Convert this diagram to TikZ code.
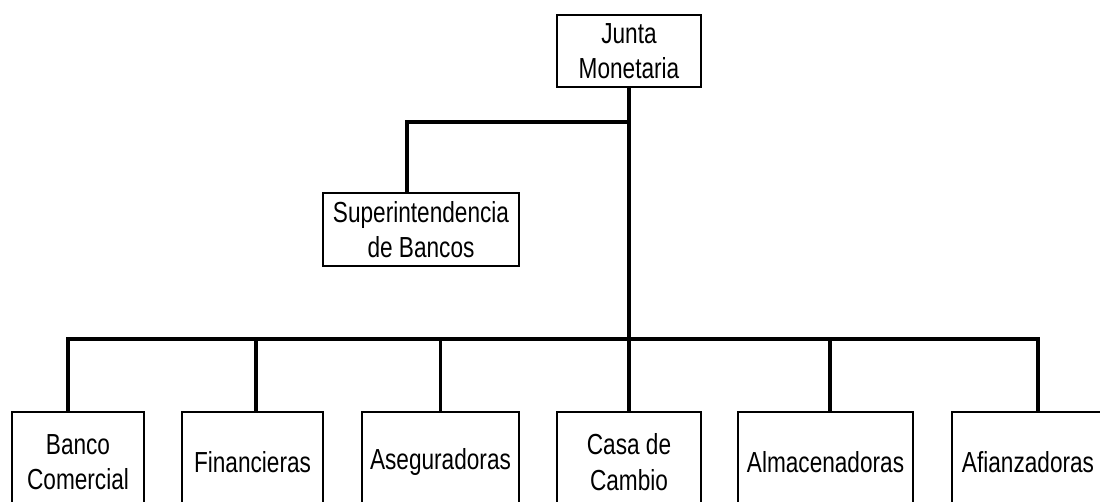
\documentclass[tikz,border=0pt]{standalone}
\usepackage{fontspec}
\setmainfont{Liberation Sans}[FakeStretch=0.78]
\begin{document}
\begin{tikzpicture}[x=1pt,y=-1pt,
  box/.style={draw, line width=1.6pt, inner sep=0pt, align=center,
    font=\fontsize{29}{35.5}\selectfont},
  conn/.style={line width=3.6pt, line cap=rect}]
\useasboundingbox (0,0) rectangle (1100,501);
\clip (0,0) rectangle (1100,501);
% top nodes
\node[box, minimum width=144pt, minimum height=72pt] (junta) at (629,51) {Junta\\Monetaria};
\node[box, minimum width=196pt, minimum height=73pt] (super) at (421,229.5) {Superintendencia\\de Bancos};
% bottom nodes
\node[box, minimum width=132pt, minimum height=100pt] (banco) at (78,462) {Banco\\Comercial};
\node[box, minimum width=141pt, minimum height=100pt] (fin) at (252.5,462) {Financieras};
\node[box, minimum width=157pt, minimum height=100pt] (ase) at (440.5,462) {Aseguradoras};
\node[box, minimum width=144pt, minimum height=100pt] (casa) at (629,462) {Casa de\\Cambio};
\node[box, minimum width=175pt, minimum height=100pt] (alm) at (825.5,462) {Almacenadoras};
\node[box, minimum width=152pt, minimum height=100pt] (afi) at (1028,462) {Afianzadoras};
% junction coordinates
\coordinate (up) at (629,122);
\coordinate (bus) at (629,339);
% connectors
\draw[conn, line cap=butt] (junta.south) -- (casa.north);
\draw[conn] (up) -| ([xshift=-14pt]super.north);
\draw[conn] ([xshift=-10pt]banco.north) |- (bus) -| ([xshift=10pt]afi.north);
\draw[conn, line cap=butt] ([xshift=3.5pt]fin.north) -- ([xshift=3.5pt]fin.north |- bus);
\draw[conn, line cap=butt] (ase.north) -- (ase.north |- bus);
\draw[conn, line cap=butt] ([xshift=4.5pt]alm.north) -- ([xshift=4.5pt]alm.north |- bus);
\end{tikzpicture}
\end{document}
